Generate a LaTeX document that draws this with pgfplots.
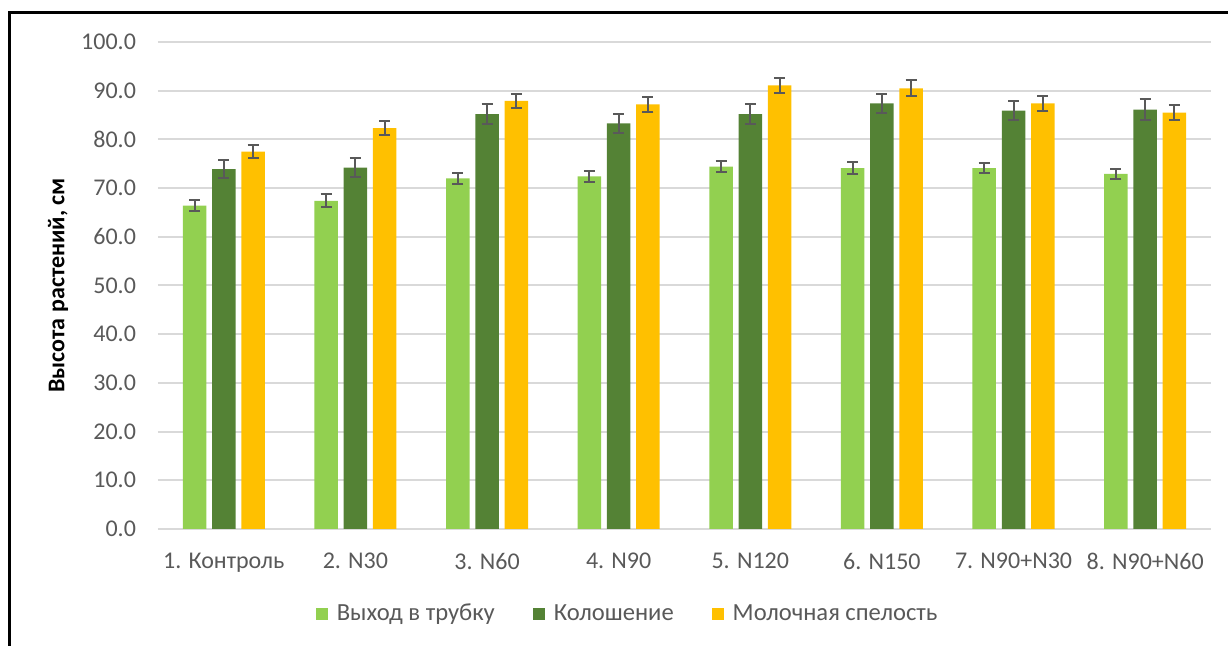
\documentclass[border=0pt]{standalone}
\usepackage{fontspec}
\setmainfont{Carlito}
\usepackage{pgfplots}
\usepackage{pgfplotstable}
\pgfplotsset{compat=1.18}

\definecolor{lgreen}{HTML}{92D050}
\definecolor{dgreen}{HTML}{548235}
\definecolor{gold}{HTML}{FFC000}
\definecolor{txt}{HTML}{595959}
\definecolor{gridc}{HTML}{D9D9D9}

% x = category index, y = mean height, e = error
\pgfplotstableread{
x y e
0 66.4 1.2
1 67.4 1.3
2 72.0 1.1
3 72.4 1.2
4 74.4 1.1
5 74.1 1.3
6 74.1 1.1
7 72.9 1.1
}\tubedata

\pgfplotstableread{
x y e
0 73.9 1.9
1 74.2 2.0
2 85.2 2.0
3 83.3 1.9
4 85.2 2.0
5 87.4 1.9
6 85.9 2.0
7 86.1 2.1
}\eardata

\pgfplotstableread{
x y e
0 77.5 1.4
1 82.3 1.5
2 87.9 1.5
3 87.2 1.6
4 91.1 1.6
5 90.5 1.6
6 87.4 1.6
7 85.5 1.6
}\milkdata

\begin{document}
\begin{tikzpicture}
\useasboundingbox (0pt,0pt) rectangle (614pt,323pt);
\begin{axis}[
    at={(79pt,58.5pt)}, anchor=south west,
    scale only axis, width=526.5pt, height=243.5pt,
    ybar=2.9pt, bar width=11.75pt,
    xmin=-0.5, xmax=7.5, ymin=0, ymax=100,
    xtick={0,...,7},
    xticklabels={1. Контроль, 2. N30, 3. N60, 4. N90, 5. N120, 6. N150, 7. N90+N30, 8. N90+N60},
    ytick={0,10,...,100},
    yticklabel style={xshift=-7.5pt, /pgf/number format/fixed, /pgf/number format/fixed zerofill,
        /pgf/number format/precision=1, /pgf/number format/assume math mode=true},
    xticklabel style={yshift=-8.5pt},
    tick label style={font=\fontsize{12}{14}\selectfont, text=txt},
    ymajorgrids, grid style={gridc, line width=1pt},
    axis line style={draw=none}, major tick length=0pt,
    ylabel={Высота растений, см},
    every axis y label/.style={at={(axis description cs:-0.095,0.5)}, rotate=90, anchor=center},
    ylabel style={font=\bfseries\fontsize{12}{14}\selectfont, text=black},
    legend columns=-1,
    legend image code/.code={\fill[#1] (0pt,-3pt) rectangle (6pt,3pt); \path (8.5pt,0pt);},
    legend style={at={(0.447,-0.1745)}, anchor=center, draw=none,
        font=\fontsize{12.3}{14}\selectfont, text=txt,
        /tikz/every even column/.append style={column sep=17pt}},
    error bars/error bar style={draw=txt, line width=1pt},
    error bars/error mark options={rotate=90, mark size=2.75pt, draw=txt, line width=1pt},
]
\addplot[fill=lgreen, draw=none, error bars/.cd, y dir=both, y explicit]
    table[x=x, y=y, y error=e]{\tubedata};
\addplot[fill=dgreen, draw=none, error bars/.cd, y dir=both, y explicit]
    table[x=x, y=y, y error=e]{\eardata};
\addplot[fill=gold, draw=none, error bars/.cd, y dir=both, y explicit]
    table[x=x, y=y, y error=e]{\milkdata};
\legend{Выход в трубку, Колошение, Молочная спелость}
\end{axis}
\draw[line width=1.5pt] (4.5pt,-5pt) -- (4.5pt,316.5pt) -- (620pt,316.5pt);
\end{tikzpicture}
\end{document}
